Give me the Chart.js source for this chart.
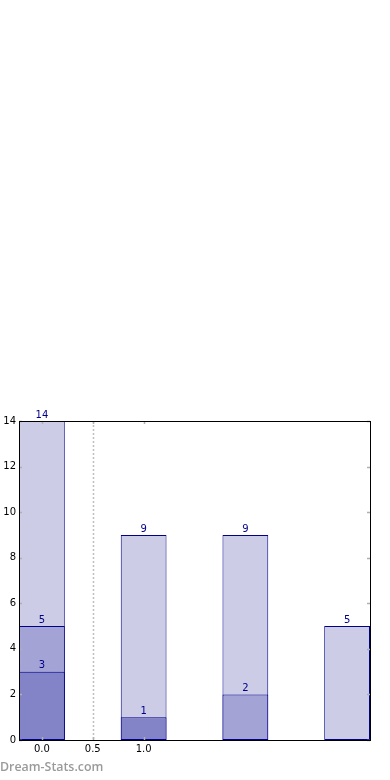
<!DOCTYPE html>
<html>
<head>
<meta charset="utf-8">
<script src="https://cdn.jsdelivr.net/npm/chart.js@4"></script>
<style>
html,body{margin:0;padding:0;background:#fff;}
#wrap{position:relative;width:390px;height:780px;}
#wm{position:absolute;left:0;top:759px;line-height:16px;font-family:"Open Sans",sans-serif;font-weight:600;font-size:12.4px;color:#9a9a9a;white-space:nowrap;}
</style>
</head>
<body>
<div id="wrap">
<canvas id="c" width="390" height="780"></canvas>
<div id="wm">Dream-Stats.com</div>
</div>
<script>
// Data
const categories = [0, 1, 2, 3];
const totalValues = [14, 9, 9, 5];
const midValues = [5, null, 2, null];
const lowValues = [3, 1, null, null];
const xTickValues = [0, 0.5, 1.0];
const xTickLabels = ['0.0', '0.5', '1.0'];
const yTickValues = [0, 2, 4, 6, 8, 10, 12, 14];
const dividerValue = 0.5;

function pts(vals) {
  const out = [];
  vals.forEach((v, i) => { if (v !== null) out.push({x: categories[i], y: v}); });
  return out;
}

const EDGE = '#00008b';
const common = {grouped: false, categoryPercentage: 1, barPercentage: 0.9, borderColor: EDGE, borderWidth: 1, borderSkipped: false};

const overlay = {
  id: 'overlay',
  beforeDatasetsDraw(chart) {
    const ctx = chart.ctx, a = chart.chartArea, xs = chart.scales.x;
    const px = Math.round(xs.getPixelForValue(dividerValue)) + 0.5;
    ctx.save();
    ctx.strokeStyle = '#c0c0c0';
    ctx.lineWidth = 1.5;
    ctx.setLineDash([2, 2]);
    ctx.beginPath(); ctx.moveTo(px, a.top); ctx.lineTo(px, a.bottom); ctx.stroke();
    ctx.restore();
  },
  afterDatasetsDraw(chart) {
    const ctx = chart.ctx, a = chart.chartArea, xs = chart.scales.x, ys = chart.scales.y;
    ctx.save();
    ctx.strokeStyle = '#b0b0b0';
    ctx.lineWidth = 1.5;
    const L = 3;
    xTickValues.forEach(v => {
      const p = Math.round(xs.getPixelForValue(v)) + 0.5;
      ctx.beginPath();
      ctx.moveTo(p, a.top); ctx.lineTo(p, a.top + L);
      ctx.moveTo(p, a.bottom); ctx.lineTo(p, a.bottom - L);
      ctx.stroke();
    });
    yTickValues.forEach(v => {
      const p = Math.round(ys.getPixelForValue(v)) + 0.5;
      ctx.beginPath();
      ctx.moveTo(a.left, p); ctx.lineTo(a.left + L, p);
      ctx.moveTo(a.right, p); ctx.lineTo(a.right - L, p);
      ctx.stroke();
    });
    ctx.strokeStyle = '#000';
    ctx.lineWidth = 1;
    ctx.strokeRect(Math.round(a.left) + 0.5, Math.round(a.top) + 0.5, Math.round(a.right - a.left), Math.round(a.bottom - a.top));
    ctx.fillStyle = EDGE;
    ctx.font = '10px "DejaVu Sans"';
    ctx.textAlign = 'center';
    ctx.textBaseline = 'bottom';
    chart.data.datasets.forEach((ds, di) => {
      const meta = chart.getDatasetMeta(di);
      meta.data.forEach((el, i) => {
        ctx.fillText(String(ds.data[i].y), el.x, el.y - 1);
      });
    });
    ctx.restore();
  }
};

new Chart(document.getElementById('c'), {
  type: 'bar',
  data: {
    datasets: [
      Object.assign({label: 'low', data: pts(lowValues), backgroundColor: 'rgb(131,131,199)'}, common),
      Object.assign({label: 'mid', data: pts(midValues), backgroundColor: 'rgb(163,163,213)'}, common),
      Object.assign({label: 'total', data: pts(totalValues), backgroundColor: 'rgb(204,204,230)'}, common)
    ]
  },
  options: {
    responsive: false,
    animation: false,
    events: [],
    layout: {padding: {left: 0, right: 20, top: 421, bottom: 0}},
    font: {family: '"DejaVu Sans"', size: 10},
    plugins: {legend: {display: false}, tooltip: {enabled: false}},
    scales: {
      x: {
        type: 'linear', offset: false, min: -0.225, max: 3.225,
        grid: {display: false, drawTicks: false}, border: {display: false},
        afterBuildTicks(s) { s.ticks = xTickValues.map(v => ({value: v})); },
        afterFit(s) { s.height = 40; },
        ticks: {color: '#000', font: {family: '"DejaVu Sans"', size: 10}, padding: 3, maxRotation: 0, autoSkip: false,
          callback: (v) => xTickLabels[xTickValues.indexOf(v)]}
      },
      y: {
        min: 0, max: 14,
        grid: {display: false, drawTicks: false}, border: {display: false},
        afterBuildTicks(s) { s.ticks = yTickValues.map(v => ({value: v})); },
        afterFit(s) { s.width = 19; },
        ticks: {color: '#000', font: {family: '"DejaVu Sans"', size: 10}, padding: 3, callback: v => String(v)}
      }
    }
  },
  plugins: [overlay]
});
</script>
</body>
</html>
